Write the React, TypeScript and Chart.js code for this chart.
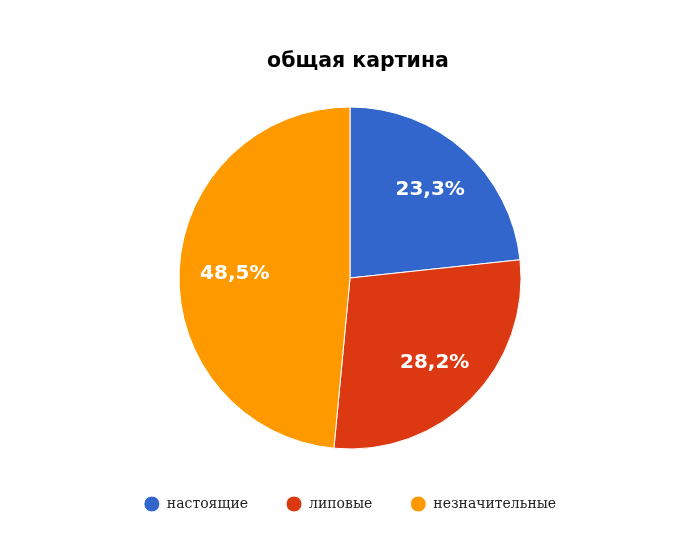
import React, { useEffect, useRef } from "react";
import { Chart, registerables } from "chart.js";

Chart.register(...registerables);

const categories = ["настоящие", "липовые", "незначительные"];
const percentValues = [23.3, 28.2, 48.5];
const sliceColors = ["#3366CC", "#DC3912", "#FF9900"];
const chartTitle = "общая картина";

const titlePlugin = {
  id: "customTitle",
  afterDraw(chart: any) {
    const ctx = chart.ctx;
    ctx.save();
    ctx.fillStyle = "#000000";
    ctx.font = "bold 20.5px 'DejaVu Sans'";
    ctx.textAlign = "center";
    ctx.textBaseline = "alphabetic";
    ctx.fillText(chartTitle, 358, 66.5);
    ctx.restore();
  },
};

const sliceLabelPlugin = {
  id: "sliceLabels",
  afterDatasetsDraw(chart: any) {
    const ctx = chart.ctx;
    const meta = chart.getDatasetMeta(0);
    ctx.save();
    ctx.fillStyle = "#ffffff";
    ctx.font = "bold 20px 'DejaVu Sans'";
    ctx.textAlign = "center";
    ctx.textBaseline = "middle";
    meta.data.forEach((arc: any, i: number) => {
      const { x, y, startAngle, endAngle, outerRadius } = arc.getProps(
        ["x", "y", "startAngle", "endAngle", "outerRadius"],
        true
      );
      const mid = (startAngle + endAngle) / 2;
      const text = percentValues[i].toFixed(1).replace(".", ",") + "%";
      const hw = ctx.measureText(text).width / 2;
      const hh = 8;
      const c = Math.abs(Math.cos(mid));
      const s = Math.abs(Math.sin(mid));
      const R = outerRadius * 0.88;
      const B = c * hw + s * hh;
      const C = hw * hw + hh * hh - R * R;
      const d = -B + Math.sqrt(B * B - C);
      ctx.fillText(text, x + Math.cos(mid) * d, y + Math.sin(mid) * d + 1.5);
    });
    ctx.restore();
  },
};

export default function App() {
  const canvasRef = useRef<HTMLCanvasElement | null>(null);

  useEffect(() => {
    if (!canvasRef.current) return;
    const chart = new Chart(canvasRef.current, {
      type: "pie",
      data: {
        labels: categories,
        datasets: [
          {
            data: percentValues,
            backgroundColor: sliceColors,
            borderColor: "#ffffff",
            borderWidth: 1,
          },
        ],
      },
      options: {
        animation: false,
        responsive: true,
        maintainAspectRatio: false,
        radius: 171,
        events: [],
        layout: { padding: { top: 97, bottom: 37, left: 0, right: 0 } },
        plugins: {
          title: { display: false },
          legend: {
            display: true,
            position: "bottom",
            labels: {
              usePointStyle: true,
              pointStyle: "circle",
              pointStyleWidth: 16,
              boxHeight: 11.3,
              boxWidth: 16,
              padding: 38,
              color: "#222222",
              font: { family: "'DejaVu Serif'", size: 14 },
            },
          },
          tooltip: { enabled: false },
        },
      },
      plugins: [sliceLabelPlugin, titlePlugin],
    });
    return () => chart.destroy();
  }, []);

  return (
    <div style={{ position: "absolute", left: 0, top: 0, width: 700, height: 558, background: "#ffffff" }}>
      <canvas ref={canvasRef} />
    </div>
  );
}
